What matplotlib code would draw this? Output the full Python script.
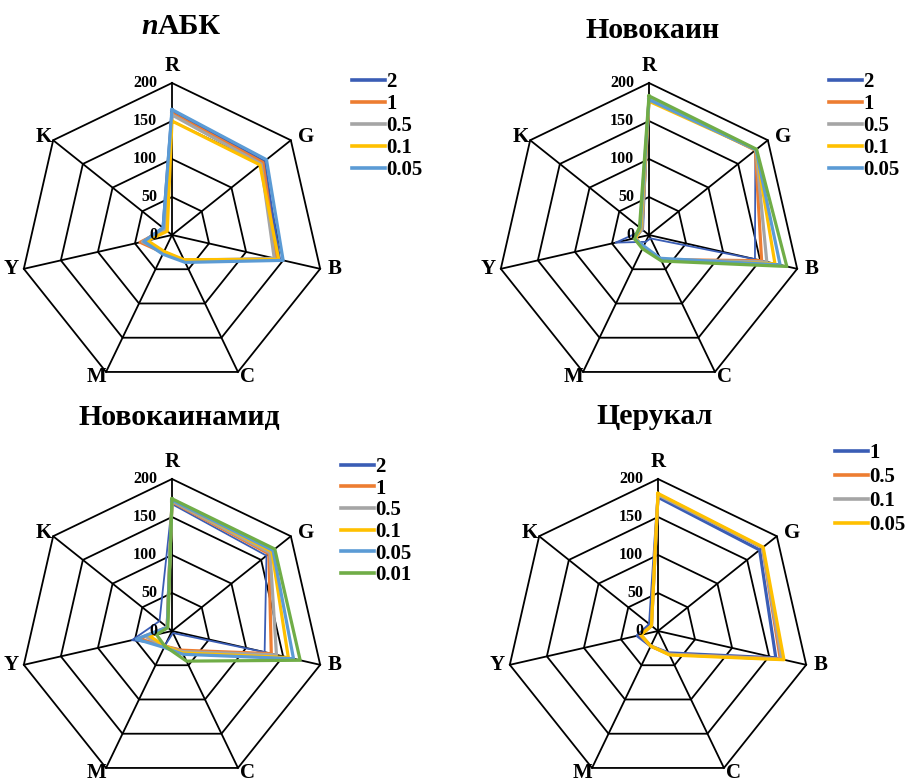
import numpy as np
import matplotlib.pyplot as plt

plt.rcParams['font.family'] = ['Liberation Serif', 'DejaVu Serif']
plt.rcParams['font.weight'] = 'bold'

# colour channels on the radar axes, clockwise from the top
categories = ['R', 'G', 'B', 'C', 'M', 'Y', 'K']
ring_values = [50, 100, 150, 200]
tick_labels = ['0', '50', '100', '150', '200']

# пАБК
pabk_labels = ['2', '1', '0.5', '0.1', '0.05']
pabk_values = [
    [162, 155, 145, 38, 25, 38, 15],
    [160, 153, 141, 38, 26, 43, 12],
    [158, 150, 138, 37, 25, 40, 12],
    [150, 148, 144, 36, 24, 33, 8],
    [165, 159, 150, 40, 28, 38, 15],
]

# Новокаин (the 0.01 curve is drawn but not listed in the legend)
novocaine_labels = ['2', '1', '0.5', '0.1', '0.05', '_0.01']
novocaine_values = [
    [178, 179, 143, 5, 10, 45, 10],
    [180, 179, 152, 36, 18, 20, 12],
    [180, 180, 159, 36, 18, 18, 12],
    [176, 180, 170, 36, 18, 18, 14],
    [178, 180, 177, 34, 16, 20, 15],
    [183, 181, 186, 38, 20, 20, 16],
]

# Новокаинамид
novocainamide_labels = ['2', '1', '0.5', '0.1', '0.05', '0.01']
novocainamide_values = [
    [167, 159, 125, 3, 20, 54, 21],
    [170, 163, 134, 28, 22, 45, 8],
    [171, 165, 141, 30, 22, 35, 8],
    [172, 168, 157, 32, 22, 30, 8],
    [172, 170, 164, 34, 24, 48, 8],
    [174, 173, 173, 44, 22, 21, 7],
]

# Церукал
cerucal_labels = ['1', '0.5', '0.1', '0.05']
cerucal_values = [
    [176, 171, 159, 32, 22, 28, 14],
    [180, 176, 165, 34, 22, 24, 11],
    [179, 176, 167, 34, 22, 23, 11],
    [181, 177, 170, 35, 22, 23, 11],
]

colors = ['#3a5db5', '#ed7d31', '#a5a5a5', '#ffc000', '#5b9bd5', '#70ad47']

W, H = 906, 783
R_PX = 152
PT = 72 / 100  # points per pixel

# label offsets from each outer vertex, in pixels (x right, y up)
label_offsets = {'R': (0, 17), 'G': (15, 3), 'B': (14, 0), 'C': (10, -5),
                 'M': (-10, -5), 'Y': (-13, 0), 'K': (-9, 3)}

fig = plt.figure(figsize=(W / 100, H / 100), dpi=100)

n = len(categories)
theta = np.linspace(0, 2 * np.pi, n, endpoint=False)
theta_closed = np.append(theta, theta[0])


def radar(cx, cy, labels, values, legend_xy, spacing=0.1, thin_first=False):
    ax = fig.add_axes([(cx - R_PX) / W, 1 - (cy + R_PX) / H,
                       2 * R_PX / W, 2 * R_PX / H], projection='polar')
    ax.set_theta_offset(np.pi / 2)
    ax.set_theta_direction(-1)
    ax.set_ylim(0, 200)
    ax.set_xticks([])
    ax.set_yticks([])
    ax.grid(False)
    ax.spines['polar'].set_visible(False)

    # heptagon grid
    for r in ring_values:
        ax.plot(theta_closed, [r] * (n + 1), color='black', lw=1.3,
                clip_on=False, zorder=1)
    for t in theta:
        ax.plot([t, t], [0, 200], color='black', lw=1.3, clip_on=False,
                zorder=1)

    # value labels along the R spoke
    for v, s in zip([0] + ring_values, tick_labels):
        ax.annotate(s, xy=(0, v), xytext=(-15 * PT, 0), textcoords='offset points',
                    ha='right', va='center', fontsize=11.5, fontweight='bold',
                    zorder=3)

    # channel names just outside the outer ring
    for t, c in zip(theta, categories):
        ox, oy = label_offsets[c]
        ax.annotate(c, xy=(t, 200), xytext=(ox * PT, oy * PT),
                    textcoords='offset points', ha='center', va='center',
                    fontsize=15, fontweight='bold', annotation_clip=False)

    for i, (lab, vals) in enumerate(zip(labels, values)):
        lw = 1.3 if (thin_first and i == 0) else 2.3
        ax.plot(theta_closed, vals + vals[:1], color=colors[i], lw=lw,
                label=lab, zorder=2, clip_on=False)

    leg = ax.legend(loc='upper left', bbox_to_anchor=(legend_xy[0] / W, 1 - legend_xy[1] / H),
                    bbox_transform=fig.transFigure, frameon=False,
                    handlelength=1.6, handletextpad=0.05, labelspacing=spacing,
                    borderpad=0, borderaxespad=0,
                    prop={'size': 15, 'weight': 'bold'})
    for h in leg.get_lines():
        h.set_linewidth(2.6)
    return ax


radar(172, 235, pabk_labels, pabk_values, (352, 72))
radar(649, 235, novocaine_labels, novocaine_values, (829, 72), thin_first=True)
radar(172, 631, novocainamide_labels, novocainamide_values, (341, 457), spacing=0.08,
      thin_first=True)
radar(658, 631, cerucal_labels, cerucal_values, (835, 443), spacing=0.2)

# panel titles
title_kw = dict(fontsize=21.5, fontweight='bold', va='center')
fig.text(158 / W, 1 - 26 / H, 'n', style='italic', ha='right', **title_kw)
fig.text(158 / W, 1 - 26 / H, 'АБК', ha='left', **title_kw)
fig.text(653 / W, 1 - 30 / H, 'Новокаин', ha='center', **title_kw)
fig.text(179 / W, 1 - 418 / H, 'Новокаинамид', ha='center', **title_kw)
fig.text(655 / W, 1 - 416 / H, 'Церукал', ha='center', **title_kw)

fig.savefig('out.png', dpi=100, facecolor='white')
